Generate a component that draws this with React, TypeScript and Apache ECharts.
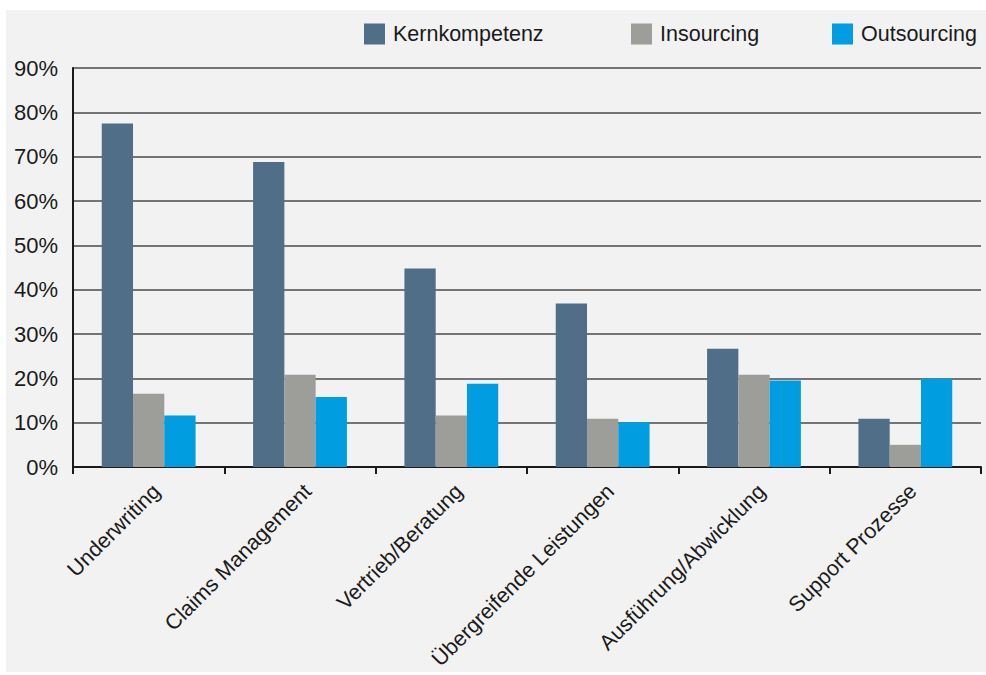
import React, { useEffect, useRef } from "react";
import * as echarts from "echarts";

const categories = [
  "Underwriting",
  "Claims Management",
  "Vertrieb/Beratung",
  "Übergreifende Leistungen",
  "Ausführung/Abwicklung",
  "Support Prozesse",
];
const kernkompetenz = [77.5, 68.8, 44.8, 36.9, 26.7, 10.9];
const insourcing = [16.5, 20.8, 11.6, 10.9, 20.8, 5.0];
const outsourcing = [11.6, 15.8, 18.8, 10.1, 19.5, 19.9];
const seriesNames = ["Kernkompetenz", "Insourcing", "Outsourcing"];
const colors = ["#506e87", "#9d9d99", "#009ee0"];
const legendLefts = [359, 626, 827];

export default function App() {
  const ref = useRef<HTMLDivElement>(null);
  useEffect(() => {
    if (!ref.current) return;
    const chart = echarts.init(ref.current, undefined, { renderer: "svg" });
    const font = "'Liberation Sans', Arial, Helvetica, sans-serif";
    const data = [kernkompetenz, insourcing, outsourcing];
    chart.setOption({
      animation: false,
      backgroundColor: "#ffffff",
      textStyle: { fontFamily: font, color: "#1a1a1a" },
      graphic: [
        {
          type: "rect",
          z: -10,
          silent: true,
          shape: { x: 6, y: 10, width: 980, height: 662 },
          style: { fill: "#f2f2f2" },
        },
      ],
      legend: seriesNames.map((n, i) => ({
        data: [n],
        left: legendLefts[i],
        top: 18,
        itemWidth: 21,
        itemHeight: 21,
        itemGap: 0,
        icon: "rect",
        textStyle: { fontSize: 21.5, color: "#1a1a1a", fontFamily: font, padding: [0, 0, 0, 3] },
        selectedMode: false,
      })),
      grid: { left: 73, right: 5, top: 68, bottom: 208, containLabel: false },
      xAxis: {
        type: "category",
        data: categories,
        axisLine: { lineStyle: { color: "#1a1a1a", width: 2 } },
        axisTick: { show: true, length: 7, lineStyle: { color: "#1a1a1a", width: 2 } },
        axisLabel: {
          rotate: 45,
          fontSize: 21.5,
          color: "#1a1a1a",
          fontFamily: font,
          interval: 0,
          margin: 13,
          verticalAlign: "top",
        },
      },
      yAxis: {
        type: "value",
        min: 0,
        max: 90,
        interval: 10,
        axisLine: { show: true, lineStyle: { color: "#1a1a1a", width: 2 } },
        axisTick: { show: false },
        axisLabel: {
          formatter: "{value}%",
          fontSize: 22,
          color: "#1a1a1a",
          fontFamily: font,
          margin: 15,
        },
        splitLine: { lineStyle: { color: "#4a4a4a", width: 1.6 } },
      },
      series: seriesNames.map((n, i) => ({
        name: n,
        type: "bar",
        data: data[i],
        barGap: "0%",
        barCategoryGap: "38%",
        itemStyle: { color: colors[i] },
      })),
    });
    return () => chart.dispose();
  }, []);
  return (
    <div
      ref={ref}
      style={{ position: "absolute", left: 0, top: 0, width: 986, height: 675 }}
    />
  );
}
